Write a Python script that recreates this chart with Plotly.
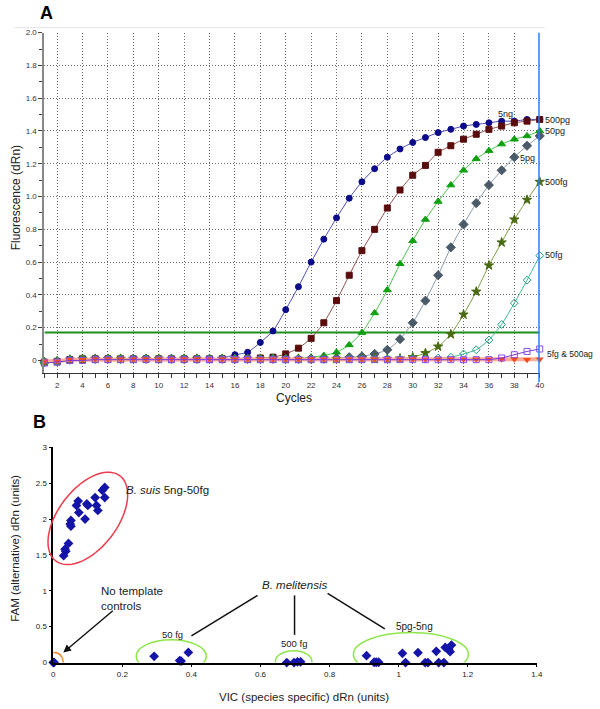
import plotly.graph_objects as go
import math

W, H = 600, 709

# ---------------- Panel A data (amplification plot) ----------------
cycles = list(range(1, 41))

fl_5ng = [-0.01, -0.005, 0.005, 0.005, 0.01, 0.01, 0.01, 0.01, 0.01, 0.01,
          0.01, 0.01, 0.01, 0.01, 0.015, 0.035, 0.05, 0.11, 0.18, 0.31,
          0.45, 0.60, 0.74, 0.87, 0.99, 1.09, 1.17, 1.24, 1.29, 1.33,
          1.36, 1.39, 1.41, 1.43, 1.44, 1.45, 1.46, 1.46, 1.47, 1.47]
fl_500pg = [-0.01, -0.005, 0.005, 0.01, 0.01, 0.01, 0.01, 0.01, 0.01, 0.01,
            0.01, 0.01, 0.01, 0.01, 0.01, 0.01, 0.01, 0.015, 0.02, 0.04,
            0.075, 0.135, 0.23, 0.365, 0.52, 0.67, 0.80, 0.93, 1.04, 1.13,
            1.19, 1.27, 1.31, 1.35, 1.38, 1.41, 1.43, 1.45, 1.46, 1.47]
fl_50pg = [-0.01, -0.005, 0.005, 0.01, 0.01, 0.01, 0.01, 0.01, 0.01, 0.01,
           0.01, 0.01, 0.01, 0.01, 0.01, 0.01, 0.01, 0.01, 0.01, 0.01,
           0.015, 0.02, 0.03, 0.05, 0.095, 0.17, 0.29, 0.43, 0.59, 0.73,
           0.86, 0.97, 1.07, 1.16, 1.23, 1.28, 1.32, 1.35, 1.37, 1.40]
fl_5pg = [-0.01, -0.005, 0.005, 0.01, 0.01, 0.01, 0.01, 0.01, 0.01, 0.01,
          0.01, 0.01, 0.01, 0.01, 0.01, 0.01, 0.01, 0.01, 0.01, 0.01,
          0.01, 0.01, 0.01, 0.015, 0.02, 0.025, 0.04, 0.065, 0.13, 0.23,
          0.365, 0.52, 0.69, 0.83, 0.96, 1.07, 1.16, 1.24, 1.31, 1.37]
fl_500fg = [-0.01, -0.005, 0.005, 0.01, 0.01, 0.01, 0.01, 0.01, 0.01, 0.01,
            0.01, 0.01, 0.01, 0.01, 0.01, 0.01, 0.01, 0.01, 0.01, 0.01,
            0.01, 0.01, 0.01, 0.01, 0.01, 0.01, 0.01, 0.01, 0.012, 0.02,
            0.045, 0.085, 0.16, 0.28, 0.42, 0.58, 0.72, 0.86, 0.98, 1.09]
fl_50fg = [-0.01, -0.005, 0.005, 0.01, 0.01, 0.01, 0.01, 0.01, 0.01, 0.01,
           0.01, 0.01, 0.01, 0.01, 0.01, 0.01, 0.01, 0.01, 0.01, 0.01,
           0.01, 0.01, 0.01, 0.01, 0.01, 0.01, 0.01, 0.01, 0.01, 0.01,
           0.01, 0.015, 0.02, 0.04, 0.065, 0.125, 0.22, 0.35, 0.49, 0.64]
fl_5fg = [-0.015, -0.01, 0.0, 0.0, 0.005, 0.005, 0.005, 0.005, 0.005, 0.005,
          0.005, 0.005, 0.005, 0.005, 0.005, 0.005, 0.005, 0.005, 0.005, 0.005,
          0.005, 0.005, 0.005, 0.005, 0.005, 0.005, 0.005, 0.005, 0.005, 0.005,
          0.005, 0.005, 0.005, 0.005, 0.005, 0.005, 0.015, 0.035, 0.055, 0.07]
fl_500ag = [-0.005, -0.005, 0.005, 0.005, 0.008, 0.008, 0.008, 0.008, 0.008, 0.008,
            0.008, 0.008, 0.008, 0.008, 0.008, 0.008, 0.008, 0.008, 0.008, 0.008,
            0.008, 0.008, 0.008, 0.008, 0.008, 0.008, 0.008, 0.008, 0.008, 0.008,
            0.008, 0.008, 0.008, 0.008, 0.008, 0.008, 0.008, 0.008, 0.005, 0.008]
threshold = 0.17

a_yticks = [0, 0.2, 0.4, 0.6, 0.8, 1.0, 1.2, 1.4, 1.6, 1.8, 2.0]
a_yticklabels = ["0", "0.2", "0.4", "0.6", "0.8", "1.0", "1.2", "1.4", "1.6", "1.8", "2.0"]
a_xticks = [2, 4, 6, 8, 10, 12, 14, 16, 18, 20, 22, 24, 26, 28, 30, 32, 34, 36, 38, 40]

# ---------------- Panel B data (allelic discrimination) ----------------
suis_x = [0.149, 0.142, 0.149, 0.121, 0.125, 0.129, 0.100, 0.097, 0.072, 0.067,
          0.074, 0.092, 0.051, 0.049, 0.051, 0.044, 0.034, 0.036, 0.030]
suis_y = [2.44, 2.40, 2.30, 2.30, 2.19, 2.12, 2.19, 2.21, 2.25, 2.19,
          2.09, 2.00, 1.98, 1.93, 1.90, 1.66, 1.58, 1.55, 1.49]
ntc_x = [0.0, 0.002]
ntc_y = [0.0, 0.003]
mel50fg_x = [0.292, 0.366, 0.370, 0.391]
mel50fg_y = [0.087, 0.028, 0.020, 0.140]
mel500fg_x = [0.676, 0.697, 0.707, 0.716]
mel500fg_y = [0.0, 0.0, 0.01, 0.01]
mel5pg_x = [0.907, 0.929, 0.935, 0.942, 1.011, 1.020, 1.056, 1.077, 1.085, 1.109,
            1.116, 1.131, 1.135, 1.145, 1.149, 1.153]
mel5pg_y = [0.096, 0.004, 0.004, 0.004, 0.128, 0.0, 0.138, 0.0, 0.0, 0.156,
            0.0, 0.0, 0.210, 0.188, 0.151, 0.243]

b_xticks = [0, 0.2, 0.4, 0.6, 0.8, 1.0, 1.2, 1.4]
b_xticklabels = ["0", "0.2", "0.4", "0.6", "0.8", "1", "1.2", "1.4"]
b_yticks = [0, 0.5, 1, 1.5, 2, 2.5, 3]
b_yticklabels = ["0", "0.5", "1", "1.5", "2", "2.5", "3"]

FONT = "Liberation Sans, Arial, sans-serif"


def pxx(x):
    return x / W


def pxy(y):
    return 1 - y / H


fig = go.Figure()

seriesA = [
    (fl_5ng, "circle", 6, "#0a0a8a", "#4a4ab8", 1),
    (fl_500pg, "square", 6, "#5a0c0c", "#905050", 1),
    (fl_50pg, "triangle-up", 7, "#0fa00f", "#48c048", 1),
    (fl_5pg, "diamond", 7, "#4a5a68", "#8a98a8", 1),
    (fl_500fg, "star", 7, "#4a6a12", "#7a9a40", 1),
    (fl_50fg, "diamond-open", 6, "#1aa080", "#40b898", 1),
]
for ys, sym, sz, mcol, lcol, lw in seriesA:
    fig.add_trace(go.Scatter(
        x=cycles, y=ys, mode="lines+markers", xaxis="x", yaxis="y",
        line=dict(color=lcol, width=lw, shape="spline", smoothing=0.6),
        marker=dict(symbol=sym, size=sz, color=mcol, line=dict(color=mcol, width=1)),
        showlegend=False, cliponaxis=False, hoverinfo="skip"))

# 500ag: thick salmon line with orange-red triangles
fig.add_trace(go.Scatter(
    x=cycles, y=fl_500ag, mode="lines+markers", xaxis="x", yaxis="y",
    line=dict(color="#ffab9a", width=4),
    marker=dict(symbol="triangle-down", size=7, color="#ff4a1a"),
    showlegend=False, cliponaxis=False, hoverinfo="skip"))
# 5fg: purple open squares
fig.add_trace(go.Scatter(
    x=cycles, y=fl_5fg, mode="lines+markers", xaxis="x", yaxis="y",
    line=dict(color="#7a3ad8", width=1),
    marker=dict(symbol="square-open", size=6, color="#8a4ae8", line=dict(width=1)),
    showlegend=False, cliponaxis=False, hoverinfo="skip"))

# Panel B markers
bmark = dict(symbol="diamond", size=7.5, color="#1414a8", line=dict(width=0))
for xs, ys in [(suis_x, suis_y), (ntc_x, ntc_y), (mel50fg_x, mel50fg_y),
               (mel500fg_x, mel500fg_y), (mel5pg_x, mel5pg_y)]:
    fig.add_trace(go.Scatter(
        x=xs, y=ys, mode="markers", xaxis="x2", yaxis="y2",
        marker=bmark, showlegend=False, cliponaxis=False, hoverinfo="skip"))

shapes = []
# faint top line
shapes.append(dict(type="line", xref="paper", yref="paper",
                   x0=pxx(12), x1=pxx(550), y0=pxy(24), y1=pxy(24),
                   line=dict(color="#e4e4e4", width=1)))
# threshold line
shapes.append(dict(type="line", xref="x", yref="y", x0=1, x1=40, y0=threshold, y1=threshold,
                   line=dict(color="#1f8f1f", width=2), layer="below"))
# blue cycle-40 marker line
shapes.append(dict(type="line", xref="x", yref="paper", x0=40, x1=40,
                   y0=pxy(383), y1=pxy(29), line=dict(color="#2f7cf6", width=3)))


# Panel B ellipses (x2/y2 data coordinates)
def ell(x0, x1, y0, y1, color):
    return dict(type="circle", xref="x2", yref="y2", x0=x0, x1=x1, y0=y0, y1=y1,
                line=dict(color=color, width=1.5))


shapes.append(ell(-0.021, 0.029, -0.14, 0.14, "#f08a2a"))
shapes.append(ell(0.240, 0.443, -0.14, 0.316, "#8ee64a"))
shapes.append(ell(0.643, 0.749, -0.14, 0.165, "#8ee64a"))
shapes.append(ell(0.869, 1.202, -0.188, 0.417, "#8ee64a"))

# tilted red ellipse around B. suis (drawn in page pixels)
cx, cy, a, b, th = 87, 521, 54, 30, math.radians(53)
pts = []
for i in range(73):
    t = 2 * math.pi * i / 72
    ex = cx + a * math.cos(t) * math.cos(th) - b * math.sin(t) * math.sin(th)
    ey = cy - (a * math.cos(t) * math.sin(th) + b * math.sin(t) * math.cos(th))
    pts.append((pxx(ex), pxy(ey)))
path = "M " + " L ".join(f"{x:.5f},{y:.5f}" for x, y in pts) + " Z"
shapes.append(dict(type="path", xref="paper", yref="paper", path=path,
                   line=dict(color="#ee3a4a", width=1.5)))

# leader lines for B. melitensis
for (x0, y0, x1, y1) in [(259, 599, 192, 640), (296.5, 599, 296.5, 639), (330, 597, 388, 633)]:
    shapes.append(dict(type="line", xref="paper", yref="paper",
                       x0=pxx(x0), y0=pxy(y0), x1=pxx(x1), y1=pxy(y1),
                       line=dict(color="#111", width=1.5)))

ann = []


def txt(text, x, y, size, xanchor="center", yanchor="middle", angle=0, color="#222", align="center"):
    ann.append(dict(text=text, x=pxx(x), y=pxy(y), xref="paper", yref="paper",
                    xanchor=xanchor, yanchor=yanchor, showarrow=False, textangle=angle,
                    font=dict(family=FONT, size=size, color=color), align=align))


txt("<b>A</b>", 45, 9, 18, color="#000")
txt("<b>B</b>", 38, 423, 18, color="#000")
txt("Fluorescence (dRn)", 14, 196, 12, angle=-90)
txt("Cycles", 296, 399, 12)
txt("FAM (alternative) dRn (units)", 13, 551, 11.5, angle=-90)
txt("VIC (species specific) dRn (units)", 306, 702, 11.5)

txt("5ng", 510, 111, 9)
txt("500pg", 548, 117, 9, xanchor="left")
txt("50pg", 548, 129, 9, xanchor="left")
txt("5pg", 523, 156, 9, xanchor="left")
txt("500fg", 548, 180, 9, xanchor="left")
txt("50fg", 548, 254, 9, xanchor="left")
txt("5fg &amp; 500ag", 550, 354, 8.5, xanchor="left")

txt("<i>B. suis</i> 5ng-50fg", 124, 492, 11.5, xanchor="left")
txt("No template<br>controls", 98, 602, 11.5, xanchor="left", align="left")
txt("<i>B. melitensis</i>", 296, 588, 11.5)
txt("50 fg", 173, 639, 9.5)
txt("500 fg", 296, 648, 9.5)
txt("5pg-5ng", 418, 630, 10)

# arrow to NTC
ann.append(dict(x=0.029, y=0.14, xref="x2", yref="y2", ax=51, ay=-43, axref="pixel", ayref="pixel",
                text="", showarrow=True, arrowhead=2, arrowsize=1.1, arrowwidth=1.4, arrowcolor="#111"))

GRID = "#6a6a6a"
fig.update_layout(
    width=W, height=H, margin=dict(l=0, r=0, t=0, b=0),
    paper_bgcolor="white", plot_bgcolor="white",
    font=dict(family=FONT, color="#222"),
    showlegend=False,
    xaxis=dict(domain=[43 / W, 545 / W], range=[1, 40], anchor="y",
               showline=True, linecolor="#333", linewidth=1,
               tickvals=a_xticks, ticks="outside", ticklen=4, tickcolor="#333",
               minor=dict(dtick=1, tick0=0, ticks="outside", ticklen=4, tickcolor="#333", showgrid=False),
               showgrid=True, gridcolor=GRID, griddash="1px,2px", gridwidth=1, zeroline=False,
               tickfont=dict(size=8, color="#333")),
    yaxis=dict(domain=[pxy(374), pxy(29)], range=[-0.078, 2.0], anchor="x",
               showline=True, linecolor="#888", linewidth=2,
               tickvals=a_yticks, ticktext=a_yticklabels, ticks="outside", ticklen=4, tickcolor="#444",
               minor=dict(dtick=0.1, tick0=0, ticks="outside", ticklen=3, tickcolor="#444", showgrid=False),
               showgrid=True, gridcolor=GRID, griddash="1px,2px", gridwidth=1, zeroline=False,
               tickfont=dict(size=8, color="#333")),
    xaxis2=dict(domain=[52 / W, 542 / W], range=[0, 1.4], anchor="y2",
                showline=True, linecolor="#000", linewidth=1.5,
                tickvals=b_xticks, ticktext=b_xticklabels, ticks="outside", ticklen=3, tickcolor="#000",
                showgrid=False, zeroline=False, tickfont=dict(size=8, color="#222")),
    yaxis2=dict(domain=[pxy(667), pxy(449)], range=[0, 3], anchor="x2",
                showline=True, linecolor="#000", linewidth=1.5,
                tickvals=b_yticks, ticktext=b_yticklabels, ticks="outside", ticklen=3, tickcolor="#000",
                showgrid=False, zeroline=False, tickfont=dict(size=8, color="#222")),
    shapes=shapes,
    annotations=ann,
)

fig.write_html("out.html", config={"displayModeBar": False},
               post_script="document.body.style.margin='0';document.body.style.padding='0';"
                           "document.body.style.overflow='hidden';")
